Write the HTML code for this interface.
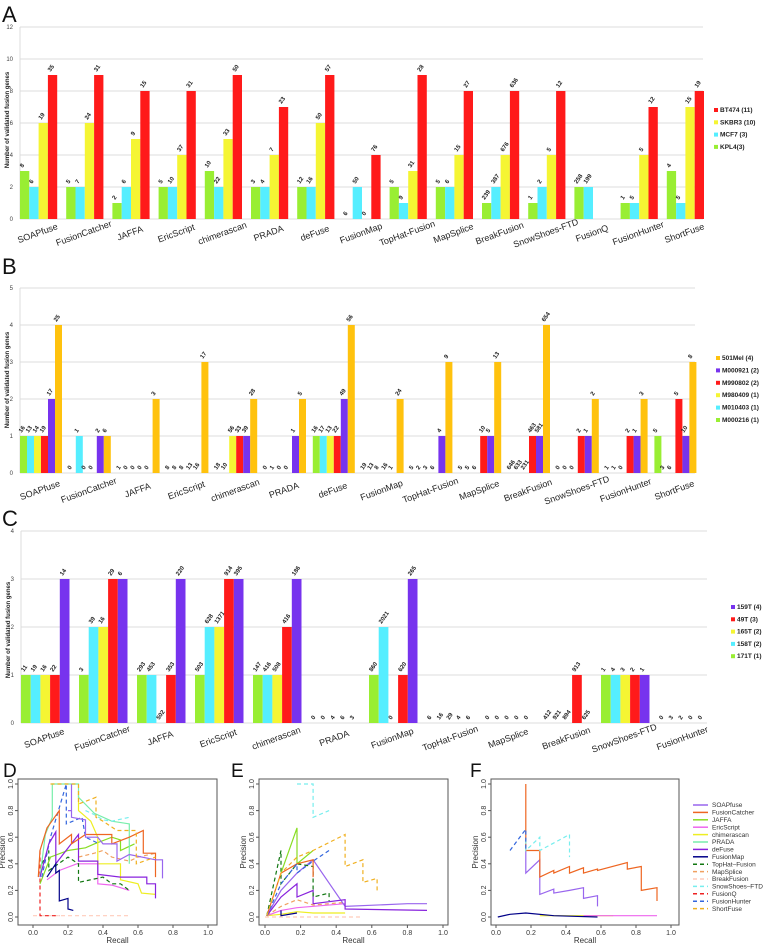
<!DOCTYPE html>
<html><head><meta charset="utf-8"><title>Fusion genes</title>
<style>
html,body{margin:0;padding:0;background:#fff;}
svg{display:block;font-family:"Liberation Sans",sans-serif;}
.lbl{font-weight:bold;font-size:6px;fill:#222;}
.cat{font-size:9px;fill:#222;}
.tick{font-size:6px;fill:#444;}
.ytitle{font-size:6px;font-weight:bold;fill:#222;}
.leg{font-size:6.5px;font-weight:bold;fill:#222;}
.letter{font-size:22px;fill:#111;}
.prt{font-size:7px;fill:#333;}
.prl{font-size:8px;fill:#333;}
.prleg{font-size:6.5px;fill:#333;}
</style></head>
<body>
<svg id="fig" width="768" height="945" viewBox="0 0 768 945" xmlns="http://www.w3.org/2000/svg">
<text class="letter" x="2" y="22">A</text>
<text class="letter" x="2" y="274">B</text>
<text class="letter" x="2" y="526">C</text>
<text class="letter" x="3" y="777" style="font-size:19px">D</text>
<text class="letter" x="231" y="777" style="font-size:19px">E</text>
<text class="letter" x="470" y="777" style="font-size:19px">F</text>
<g id="gA"></g>
<g id="gB"></g>
<g id="gC"></g>
<g id="gD"></g>
<g id="gE"></g>
<g id="gF"></g>
</svg>
<script>
// ---------- Panel A data ----------
const aCategories = ["SOAPfuse","FusionCatcher","JAFFA","EricScript","chimerascan","PRADA","deFuse","FusionMap","TopHat-Fusion","MapSplice","BreakFusion","SnowShoes-FTD","FusionQ","FusionHunter","ShortFuse"];
const aKPL4  = [3,2,1,2,3,2,2,0,2,2,1,1,2,1,3];
const aMCF7  = [2,2,2,2,2,2,2,2,1,2,2,2,2,1,1];
const aSKBR3 = [6,6,5,4,5,4,6,0,3,4,4,4,0,4,7];
const aBT474 = [9,9,8,8,9,7,9,4,9,8,8,8,0,7,8];
const aKPL4Lbl  = ["8","5","2","5","10","3","12","6","5","5","239","1","258","1","4"];
const aMCF7Lbl  = ["6","7","6","10","22","4","16","50","9","6","387","2","199","5","5"];
const aSKBR3Lbl = ["19","24","9","37","33","7","50","0","31","15","676","5","","5","15"];
const aBT474Lbl = ["35","31","15","31","50","23","57","76","28","27","636","12","","12","19"];
const aTicks = [0,2,4,6,8,10,12];
const aLegend = ["BT474 (11)","SKBR3 (10)","MCF7 (3)","KPL4(3)"];

// ---------- Panel B data ----------
const bCategories = ["SOAPfuse","FusionCatcher","JAFFA","EricScript","chimerascan","PRADA","deFuse","FusionMap","TopHat-Fusion","MapSplice","BreakFusion","SnowShoes-FTD","FusionHunter","ShortFuse"];
const bM000216 = [1,0,0,0,0,0,1,0,0,0,0,0,0,1];
const bM010403 = [1,1,0,0,0,0,1,0,0,0,0,0,0,0];
const bM980409 = [1,0,0,0,1,0,1,0,0,0,0,0,0,0];
const bM990802 = [1,0,0,0,1,0,1,0,0,1,1,1,1,2];
const bM000921 = [2,1,0,0,1,1,2,0,1,1,1,1,1,1];
const b501Mel  = [4,1,2,3,2,2,4,2,3,3,4,2,2,3];
const bM000216Lbl = ["16","0","1","8","18","0","16","19","5","5","646","0","1","5"];
const bM010403Lbl = ["13","1","0","8","10","1","17","13","2","5","633","0","1","3"];
const bM980409Lbl = ["14","0","0","8","56","0","13","8","3","6","231","0","0","6"];
const bM990802Lbl = ["19","0","0","13","33","0","22","16","6","10","463","2","2","5"];
const bM000921Lbl = ["17","2","0","16","39","1","49","1","4","5","581","1","1","10"];
const b501MelLbl  = ["25","6","3","17","28","5","56","24","9","13","654","2","3","8"];
const bTicks = [0,1,2,3,4,5];
const bLegend = ["501Mel (4)","M000921 (2)","M990802 (2)","M980409 (1)","M010403 (1)","M000216 (1)"];

// ---------- Panel C data ----------
const cCategories = ["SOAPfuse","FusionCatcher","JAFFA","EricScript","chimerascan","PRADA","FusionMap","TopHat-Fusion","MapSplice","BreakFusion","SnowShoes-FTD","FusionHunter"];
const c171T = [1,1,1,1,1,0,1,0,0,0,1,0];
const c158T = [1,2,1,2,1,0,2,0,0,0,1,0];
const c165T = [1,2,0,2,1,0,0,0,0,0,1,0];
const c49T  = [1,3,1,3,2,0,1,0,0,1,1,0];
const c159T = [3,3,3,3,3,0,3,0,0,0,1,0];
const c171TLbl = ["11","3","293","503","147","0","860","6","0","412","1","0"];
const c158TLbl = ["19","39","453","628","416","0","2021","16","0","921","4","3"];
const c165TLbl = ["16","16","502","1371","508","4","0","29","0","894","3","2"];
const c49TLbl  = ["22","29","353","914","416","6","620","4","0","913","2","0"];
const c159TLbl = ["14","6","220","395","186","3","265","6","0","625","1","0"];
const cTicks = [0,1,2,3,4];
const cLegend = ["159T (4)","49T (3)","165T (2)","158T (2)","171T (1)"];

// ---------- PR data (recall, precision) ----------
const dSOAPfuse = [[0.2,0.8],[0.22,0.8],[0.22,1.0],[0.22,0.75],[0.3,0.73],[0.3,0.6],[0.37,0.6],[0.4,0.55],[0.48,0.55],[0.48,0.42],[0.55,0.47],[0.7,0.43],[0.74,0.43],[0.74,0.29]];
const dFusionCatcher = [[0.03,0.3],[0.04,0.5],[0.08,0.67],[0.15,0.8],[0.15,0.55],[0.22,0.62],[0.22,0.55],[0.3,0.62],[0.45,0.62],[0.45,0.55],[0.55,0.6],[0.63,0.65],[0.63,0.48],[0.7,0.48],[0.7,0.3]];
const dJAFFA = [[0.04,0.25],[0.1,0.45],[0.2,0.5],[0.3,0.52],[0.35,0.55],[0.45,0.6],[0.5,0.58],[0.5,0.5],[0.58,0.55]];
const dEricScript = [[0.08,0.28],[0.15,0.35],[0.25,0.4],[0.37,0.4],[0.37,0.25],[0.45,0.24],[0.5,0.22],[0.55,0.2]];
const dChimerascan = [[0.26,0.95],[0.26,0.8],[0.33,0.72],[0.37,0.6],[0.37,0.4],[0.5,0.4],[0.5,0.28],[0.6,0.25],[0.62,0.18],[0.7,0.17]];
const dPRADA = [[0.04,0.3],[0.07,0.62],[0.11,0.75],[0.11,1.0],[0.26,1.0],[0.26,0.9],[0.35,0.78],[0.45,0.72],[0.55,0.7],[0.55,0.4]];
const dDeFuse = [[0.04,0.3],[0.09,0.55],[0.13,0.64],[0.13,0.4],[0.26,0.62],[0.26,0.42],[0.37,0.42],[0.37,0.32],[0.5,0.3],[0.65,0.3],[0.65,0.25],[0.7,0.25],[0.7,0.14]];
const dFusionMap = [[0.08,0.3],[0.13,0.4],[0.13,0.33],[0.15,0.35],[0.15,0.12],[0.2,0.14],[0.2,0.06],[0.23,0.05]];
const dTopHat = [[0.05,0.4],[0.09,0.5],[0.09,0.35],[0.2,0.45],[0.26,0.4],[0.26,0.26],[0.4,0.3],[0.45,0.25],[0.5,0.25],[0.55,0.2]];
const dMapSplice = [[0.26,0.45],[0.35,0.48],[0.4,0.5],[0.45,0.45],[0.55,0.42],[0.6,0.45],[0.7,0.48]];
const dBreakFusion = [[0.0,0.01],[0.55,0.01]];
const dSnowShoes = [[0.3,0.8],[0.35,0.77],[0.4,0.73],[0.45,0.72],[0.55,0.75]];
const dFusionQ = [[0.04,0.5],[0.04,0.01],[0.15,0.01]];
const dFusionHunter = [[0.05,0.3],[0.1,0.6],[0.19,1.0],[0.19,0.7],[0.28,0.75],[0.3,0.6],[0.38,0.55]];
const dShortFuse = [[0.1,1.0],[0.26,1.0],[0.26,0.85],[0.36,0.9],[0.36,0.75],[0.4,0.72],[0.48,0.65],[0.59,0.65],[0.59,0.4],[0.7,0.45]];

const eSOAPfuse = [[0.01,0.01],[0.09,0.2],[0.18,0.33],[0.27,0.43],[0.45,0.08],[0.8,0.1],[0.91,0.1]];
const eFusionCatcher = [[0.01,0.01],[0.09,0.33],[0.18,0.4],[0.27,0.43],[0.27,0.3]];
const eJAFFA = [[0.09,0.33],[0.18,0.67],[0.18,0.4],[0.27,0.5]];
const eEricScript = [[0.01,0.01],[0.09,0.05],[0.18,0.07],[0.45,0.1]];
const eChimerascan = [[0.01,0.01],[0.09,0.02],[0.18,0.04],[0.27,0.03],[0.45,0.03]];
const eDeFuse = [[0.01,0.01],[0.09,0.15],[0.18,0.25],[0.18,0.15],[0.27,0.2],[0.27,0.1],[0.45,0.13],[0.45,0.06],[0.91,0.05]];
const eFusionMap = [[0.09,0.05],[0.09,0.01],[0.18,0.03]];
const eTopHat = [[0.01,0.01],[0.09,0.5],[0.09,0.25],[0.18,0.4],[0.27,0.38],[0.27,0.15],[0.36,0.18],[0.36,0.12]];
const eMapSplice = [[0.01,0.01],[0.09,0.08],[0.18,0.13],[0.27,0.09],[0.45,0.11]];
const eBreakFusion = [[0.0,0.0],[0.55,0.0]];
const eSnowShoes = [[0.18,1.0],[0.27,1.0],[0.27,0.75],[0.36,0.8]];
const eFusionHunter = [[0.01,0.01],[0.09,0.25],[0.18,0.4],[0.18,0.33],[0.27,0.42],[0.36,0.5]];
const eShortFuse = [[0.01,0.01],[0.09,0.33],[0.18,0.45],[0.27,0.5],[0.45,0.62],[0.45,0.38],[0.55,0.43],[0.55,0.26],[0.63,0.29],[0.63,0.18]];

const fSOAPfuse = [[0.17,0.5],[0.17,0.33],[0.25,0.43],[0.25,0.17],[0.33,0.21],[0.33,0.18],[0.42,0.2],[0.5,0.22],[0.5,0.14],[0.58,0.16],[0.58,0.08]];
const fFusionCatcher = [[0.17,1.0],[0.17,0.5],[0.25,0.5],[0.25,0.3],[0.33,0.35],[0.33,0.33],[0.42,0.38],[0.42,0.33],[0.5,0.37],[0.5,0.33],[0.58,0.36],[0.58,0.35],[0.75,0.41],[0.75,0.36],[0.83,0.38],[0.83,0.2],[0.92,0.22],[0.92,0.12]];
const fEricScript = [[0.5,0.01],[0.92,0.01]];
const fChimerascan = [[0.25,0.01],[0.67,0.01]];
const fFusionMap = [[0.01,0.0],[0.08,0.02],[0.17,0.03],[0.33,0.01],[0.58,0.0]];
const fSnowShoes = [[0.17,0.58],[0.17,0.5],[0.25,0.6],[0.25,0.5],[0.42,0.62],[0.42,0.45]];
const fFusionHunter = [[0.08,0.5],[0.17,0.66],[0.17,0.5]];

const prNames = ["SOAPfuse","FusionCatcher","JAFFA","EricScript","chimerascan","PRADA","deFuse","FusionMap","TopHat\u2013Fusion","MapSplice","BreakFusion","SnowShoes\u2013FTD","FusionQ","FusionHunter","ShortFuse"];

const NS = "http://www.w3.org/2000/svg";
function mk(tag, attrs, parent){const e=document.createElementNS(NS,tag);for(const k in attrs)e.setAttribute(k,attrs[k]);parent.appendChild(e);return e;}

const COL = {green:"#99ee33",cyan:"#55eeff",yellow:"#f5f533",red:"#ff1a1a",purple:"#7733ee",orange:"#ffc20e"};

function barPanel(g, cfg){
  const yS = v => cfg.y0 - v*cfg.unit;
  cfg.ticks.forEach(t=>{
    const l = mk("line",{x1:cfg.x0,x2:cfg.right,y1:yS(t),y2:yS(t),stroke:"#dcdcdc","stroke-width":1},g);
    
    
    const tx = mk("text",{x:cfg.x0-7,y:yS(t)+2,class:"tick","text-anchor":"end"},g);
    tx.textContent = t;
    
    
  });
  const ax = mk("line",{x1:cfg.x0,x2:cfg.x0,y1:yS(cfg.ticks[cfg.ticks.length-1]),y2:cfg.y0,stroke:"#dcdcdc","stroke-width":1},g);
  
  
  const yt = mk("text",{x:0,y:0,class:"ytitle","text-anchor":"middle",transform:`translate(${cfg.x0-11},${cfg.titleY}) rotate(-90)`},g);
  yt.textContent = "Number of validated fusion genes";
  
  
  cfg.cats.forEach((c,i)=>{
    const gx = cfg.x0 + i*cfg.step;
    cfg.series.forEach((s,j)=>{
      const v = s.vals[i];
      const bx = gx + j*cfg.barW;
      if(v>0){
        const r = mk("rect",{x:bx,y:yS(v),width:cfg.barW,height:v*cfg.unit,fill:s.color},g);
        
        
      }
      const lb = s.lbls[i];
      if(lb!==null && lb!==""){
        const cx = bx + cfg.barW/2 - 2, cy = yS(v) - 3;
        const t = mk("text",{x:0,y:0,class:"lbl",transform:`translate(${cx},${cy}) rotate(-55)`},g);
        t.textContent = lb;
        
        
      }
    });
    const cx = gx + cfg.series.length*cfg.barW/2;
    const t = mk("text",{x:0,y:0,class:"cat","text-anchor":"middle",transform:`translate(${cx},${cfg.y0+cfg.catDy}) rotate(-20)`},g);
    t.textContent = c;
    
    
  });
  cfg.legend.forEach((name,k)=>{
    const s = cfg.legendColors[k];
    const y = cfg.legY + k*cfg.legDy;
    const r = mk("rect",{x:cfg.legX,y:y-4,width:4,height:4,fill:s},g);
    
    
    const t = mk("text",{x:cfg.legX+6,y:y,class:"leg"},g);
    t.textContent = name;
    
    
  });
}

barPanel(document.getElementById("gA"),{
  x0:20,step:46.2,barW:9.3,y0:219,unit:16,right:703,ticks:aTicks,titleY:120,catDy:17,
  cats:aCategories,
  series:[{key:"kpl4",vals:aKPL4,lbls:aKPL4Lbl,color:COL.green},{key:"mcf7",vals:aMCF7,lbls:aMCF7Lbl,color:COL.cyan},
          {key:"skbr3",vals:aSKBR3,lbls:aSKBR3Lbl,color:COL.yellow},{key:"bt474",vals:aBT474,lbls:aBT474Lbl,color:COL.red}],
  legend:aLegend,legendColors:[COL.red,COL.yellow,COL.cyan,COL.green],legX:714,legY:112,legDy:12.3
});
barPanel(document.getElementById("gB"),{
  x0:20,step:48.8,barW:7,y0:473,unit:37,right:695,ticks:bTicks,titleY:380,catDy:20,
  cats:bCategories,
  series:[{key:"m000216",vals:bM000216,lbls:bM000216Lbl,color:COL.green},{key:"m010403",vals:bM010403,lbls:bM010403Lbl,color:COL.cyan},
          {key:"m980409",vals:bM980409,lbls:bM980409Lbl,color:COL.yellow},{key:"m990802",vals:bM990802,lbls:bM990802Lbl,color:COL.red},
          {key:"m000921",vals:bM000921,lbls:bM000921Lbl,color:COL.purple},{key:"501mel",vals:b501Mel,lbls:b501MelLbl,color:COL.orange}],
  legend:bLegend,legendColors:[COL.orange,COL.purple,COL.red,COL.yellow,COL.cyan,COL.green],legX:716,legY:360,legDy:12.4
});
barPanel(document.getElementById("gC"),{
  x0:21,step:58,barW:9.7,y0:723,unit:48,right:707,ticks:cTicks,titleY:630,catDy:18,
  cats:cCategories,
  series:[{key:"171t",vals:c171T,lbls:c171TLbl,color:COL.green},{key:"158t",vals:c158T,lbls:c158TLbl,color:COL.cyan},
          {key:"165t",vals:c165T,lbls:c165TLbl,color:COL.yellow},{key:"49t",vals:c49T,lbls:c49TLbl,color:COL.red},
          {key:"159t",vals:c159T,lbls:c159TLbl,color:COL.purple}],
  legend:cLegend,legendColors:[COL.purple,COL.red,COL.yellow,COL.cyan,COL.green],legX:731,legY:609,legDy:12.3
});

const PRSTYLE = {
  SOAPfuse:["#9966ee",""],FusionCatcher:["#ee6622",""],JAFFA:["#88dd22",""],EricScript:["#ee66ee",""],
  chimerascan:["#eeee22",""],PRADA:["#77eeaa",""],deFuse:["#8822dd",""],FusionMap:["#000088",""],
  TopHat:["#117711","4,3"],MapSplice:["#f0a060","4,3"],BreakFusion:["#ffccbb","4,3"],SnowShoes:["#77eeee","4,3"],
  FusionQ:["#ee2222","4,3"],FusionHunter:["#3366dd","4,3"],ShortFuse:["#f0b020","4,3"]
};
const PRKEYS = ["SOAPfuse","FusionCatcher","JAFFA","EricScript","chimerascan","PRADA","deFuse","FusionMap","TopHat","MapSplice","BreakFusion","SnowShoes","FusionQ","FusionHunter","ShortFuse"];

function prPanel(g, cfg, series){
  const xS = r => cfg.x0 + r*(cfg.x1-cfg.x0);
  const yS = p => cfg.yb - p*(cfg.yb-cfg.yt);
  const box = mk("rect",{x:cfg.bx0,y:779,width:cfg.bx1-cfg.bx0,height:146,fill:"none",stroke:"#555","stroke-width":1},g);
  
  
  [0,0.2,0.4,0.6,0.8,1.0].forEach(t=>{
    mk("line",{x1:xS(t),x2:xS(t),y1:925,y2:928,stroke:"#555"},g);
    const tx = mk("text",{x:xS(t),y:935,class:"prt","text-anchor":"middle"},g);
    tx.textContent = t.toFixed(1);
    
    
    mk("line",{x1:cfg.bx0-3,x2:cfg.bx0,y1:yS(t),y2:yS(t),stroke:"#555"},g);
    const ty = mk("text",{x:0,y:0,class:"prt","text-anchor":"middle",transform:`translate(${cfg.bx0-5},${yS(t)}) rotate(-90)`},g);
    ty.textContent = t.toFixed(1);
    
    
  });
  const xl = mk("text",{x:(cfg.bx0+cfg.bx1)/2,y:943,class:"prl","text-anchor":"middle"},g);
  xl.textContent = "Recall";
  
  
  const yl = mk("text",{x:0,y:0,class:"prl","text-anchor":"middle",transform:`translate(${cfg.bx0-13},852) rotate(-90)`},g);
  yl.textContent = "Precision";
  
  
  series.forEach(([key,pts])=>{
    const st = PRSTYLE[key];
    const d = pts.map((p,i)=>(i?"L":"M")+xS(p[0]).toFixed(1)+","+yS(p[1]).toFixed(1)).join(" ");
    const path = mk("path",{d:d,fill:"none",stroke:st[0],"stroke-width":1.2},g);
    if(st[1]) path.setAttribute("stroke-dasharray",st[1]);
    
    
  });
}

prPanel(document.getElementById("gD"),{bx0:18,bx1:217,x0:33,x1:208,yt:784,yb:917},[
  ["BreakFusion",dBreakFusion],["FusionQ",dFusionQ],["EricScript",dEricScript],["TopHat",dTopHat],["MapSplice",dMapSplice],
  ["JAFFA",dJAFFA],["chimerascan",dChimerascan],["PRADA",dPRADA],["SnowShoes",dSnowShoes],["FusionHunter",dFusionHunter],
  ["deFuse",dDeFuse],["FusionCatcher",dFusionCatcher],["SOAPfuse",dSOAPfuse],["ShortFuse",dShortFuse],["FusionMap",dFusionMap]
]);
prPanel(document.getElementById("gE"),{bx0:259,bx1:448,x0:265,x1:443,yt:784,yb:917},[
  ["BreakFusion",eBreakFusion],["chimerascan",eChimerascan],["EricScript",eEricScript],["MapSplice",eMapSplice],["FusionMap",eFusionMap],
  ["SOAPfuse",eSOAPfuse],["deFuse",eDeFuse],["TopHat",eTopHat],["JAFFA",eJAFFA],["FusionCatcher",eFusionCatcher],
  ["FusionHunter",eFusionHunter],["ShortFuse",eShortFuse],["SnowShoes",eSnowShoes]
]);
prPanel(document.getElementById("gF"),{bx0:491,bx1:679,x0:496,x1:671,yt:784,yb:917},[
  ["chimerascan",fChimerascan],["EricScript",fEricScript],["FusionMap",fFusionMap],["SOAPfuse",fSOAPfuse],
  ["FusionCatcher",fFusionCatcher],["SnowShoes",fSnowShoes],["FusionHunter",fFusionHunter]
]);

(function(){
  const g = document.getElementById("gF");
  PRKEYS.forEach((k,i)=>{
    const y = 805 + i*7.4;
    const st = PRSTYLE[k];
    const l = mk("line",{x1:693,x2:708,y1:y,y2:y,stroke:st[0],"stroke-width":1.5},g);
    if(st[1]) l.setAttribute("stroke-dasharray","4,3");
    
    
    const t = mk("text",{x:712,y:y+2.2,class:"prleg"},g);
    t.textContent = prNames[i];
    
    
  });
})();
</script>
</body></html>
